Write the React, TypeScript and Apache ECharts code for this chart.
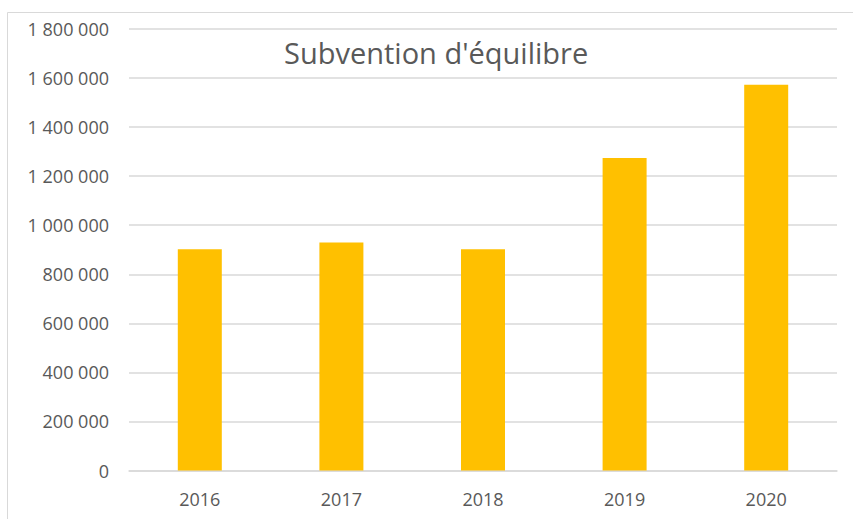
import React, { useEffect, useRef } from "react";
import * as echarts from "echarts";

const categories = ["2016", "2017", "2018", "2019", "2020"];
const values = [902000, 930000, 902000, 1274000, 1573000];
const titleText = "Subvention d'équilibre";

const fmt = (v: number) =>
  String(Math.round(v)).replace(/\B(?=(\d{3})+(?!\d))/g, " ");

export default function App() {
  const ref = useRef<HTMLDivElement>(null);
  useEffect(() => {
    if (!ref.current) return;
    const chart = echarts.init(ref.current, undefined, { renderer: "svg" });
    chart.setOption({
      animation: false,
      backgroundColor: "#ffffff",
      textStyle: { fontFamily: "'Open Sans', sans-serif" },
      title: {
        text: titleText,
        left: 279,
        top: 33,
        textStyle: {
          fontFamily: "'Open Sans', sans-serif",
          fontSize: 29,
          fontWeight: "normal",
          color: "#595959",
        },
      },
      graphic: [
        {
          type: "rect",
          shape: { x: 7.5, y: 12.5, width: 870, height: 530 },
          style: { fill: "none", stroke: "#d9d9d9", lineWidth: 1 },
          silent: true,
        },
      ],
      grid: { left: 129, right: 16, top: 29, bottom: 48.5, containLabel: false },
      xAxis: {
        type: "category",
        data: categories,
        axisLine: { show: true, lineStyle: { color: "#d9d9d9", width: 1.5 } },
        axisTick: { show: false },
        axisLabel: { color: "#595959", fontSize: 18, margin: 19 },
      },
      yAxis: {
        type: "value",
        min: 0,
        max: 1800000,
        interval: 200000,
        axisLine: { show: false },
        axisTick: { show: false },
        splitLine: { lineStyle: { color: "#d9d9d9", width: 1.5 } },
        axisLabel: {
          color: "#595959",
          fontSize: 18,
          margin: 20,
          formatter: (v: number) => fmt(v),
        },
      },
      series: [
        {
          type: "bar",
          data: values,
          barWidth: 44,
          itemStyle: { color: "#FFC000" },
        },
      ],
    });
    return () => chart.dispose();
  }, []);
  return (
    <div
      ref={ref}
      style={{ position: "absolute", left: 0, top: 0, width: 853, height: 519 }}
    />
  );
}
